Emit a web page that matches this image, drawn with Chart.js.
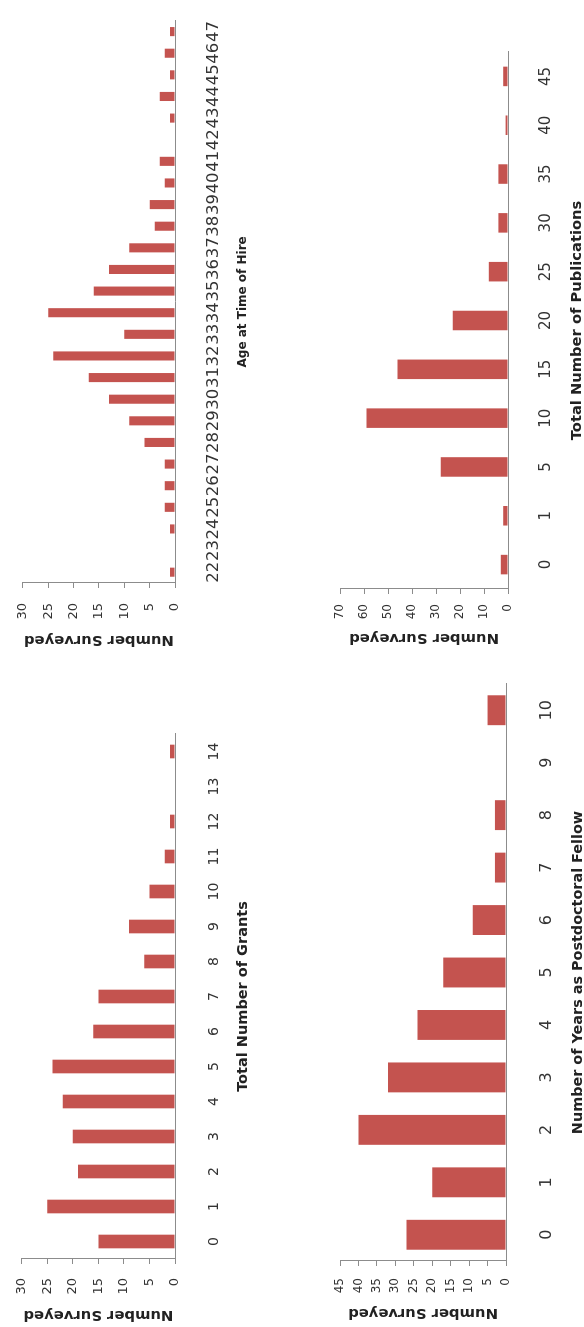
<!DOCTYPE html>
<html>
<head>
<meta charset="utf-8">
<title>Survey histograms</title>
<script src="https://cdn.jsdelivr.net/npm/chart.js@4.4.0/dist/chart.umd.min.js"></script>
<style>
  html, body { margin: 0; padding: 0; background: #fff; overflow: hidden; }
  body { width: 584px; height: 1327px; position: relative; }
  .panel { position: absolute; left: 0; top: 0; width: 650px; height: 300px; transform-origin: 0 0; }
</style>
</head>
<body>
<div class="panel" style="transform: translate(0px, 650px) rotate(-90deg)"><canvas id="c-age" width="650" height="300"></canvas></div>
<div class="panel" style="transform: translate(300px, 650px) rotate(-90deg)"><canvas id="c-pub" width="650" height="300"></canvas></div>
<div class="panel" style="transform: translate(0px, 1327px) rotate(-90deg)"><canvas id="c-grant" width="650" height="300"></canvas></div>
<div class="panel" style="transform: translate(300px, 1327px) rotate(-90deg)"><canvas id="c-postdoc" width="650" height="300"></canvas></div>
<script>
const ageLabels = ['22','23','24','25','26','27','28','29','30','31','32','33','34','35','36','37','38','39','40','41','42','43','44','45','46','47'];
const ageValues = [1,0,1,2,2,2,6,9,13,17,24,10,25,16,13,9,4,5,2,3,0,1,3,1,2,1];

const pubLabels = ['0','1','5','10','15','20','25','30','35','40','45'];
const pubValues = [3,2,28,59,46,23,8,4,4,1,2];

const grantLabels = ['0','1','2','3','4','5','6','7','8','9','10','11','12','13','14'];
const grantValues = [15,25,19,20,22,24,16,15,6,9,5,2,1,0,1];

const postdocLabels = ['0','1','2','3','4','5','6','7','8','9','10'];
const postdocValues = [27,20,40,32,24,17,9,3,3,0,5];

const barColor = '#c4534f';
const axisColor = '#8c8c8c';
const textColor = '#333333';
const fontFamily = "'DejaVu Sans', sans-serif";

// each chart is drawn upright and the panel is turned 90deg to the left
const makeChart = (id, labels, values, s) => {
  return new Chart(document.getElementById(id), {
    type: 'bar',
    data: {
      labels: labels,
      datasets: [{
        data: values,
        backgroundColor: barColor,
        barPercentage: s.bar,
        categoryPercentage: 1
      }]
    },
    options: {
      responsive: false,
      animation: false,
      layout: { padding: { left: 0, top: s.top, right: s.right, bottom: 0 } },
      plugins: { legend: { display: false }, tooltip: { enabled: false } },
      scales: {
        x: {
          grid: { display: false },
          border: { display: true, color: axisColor, width: 1 },
          ticks: {
            autoSkip: false, maxRotation: 0, minRotation: 0,
            padding: s.catPad, color: textColor,
            font: { family: fontFamily, size: s.catSize }
          },
          title: {
            display: true, text: s.xTitle, color: '#222',
            font: { family: fontFamily, size: s.xTitleSize, weight: 'bold' },
            padding: { top: 0, bottom: s.xTitlePad }
          },
          afterFit: (scale) => { scale.height = s.xHeight; }
        },
        y: {
          min: 0,
          max: s.max,
          ticks: {
            stepSize: s.step, padding: s.tickPad, color: textColor,
            font: { family: fontFamily, size: s.tickSize }
          },
          grid: { drawOnChartArea: false, drawTicks: true, tickLength: 5, color: axisColor },
          border: { display: true, color: axisColor, width: 1 },
          title: {
            display: true, text: 'Number Surveyed', color: '#222',
            font: { family: fontFamily, size: 14.8, weight: 'bold' },
            padding: { top: s.yTitlePad, bottom: 0 }
          },
          afterFit: (scale) => { scale.width = s.left; }
        }
      }
    }
  });
};

const ageChart = makeChart('c-age', ageLabels, ageValues, {
  bar: 0.42, top: 13, right: 5, left: 67, xHeight: 125,
  max: 30, step: 5, tickSize: 13, tickPad: 15, yTitlePad: 1,
  catSize: 16.5, catPad: 21, xTitle: 'Age at Time of Hire', xTitleSize: 12, xTitlePad: 50
});

const pubChart = makeChart('c-pub', pubLabels, pubValues, {
  bar: 0.4, top: 40, right: 52, left: 61, xHeight: 92,
  max: 70, step: 10, tickSize: 12, tickPad: 10, yTitlePad: 3,
  catSize: 15, catPad: 21, xTitle: 'Total Number of Publications', xTitleSize: 14.7, xTitlePad: 14
});

const grantChart = makeChart('c-grant', grantLabels, grantValues, {
  bar: 0.39, top: 13, right: 57, left: 68, xHeight: 125,
  max: 30, step: 5, tickSize: 13, tickPad: 14, yTitlePad: 3,
  catSize: 14, catPad: 23, xTitle: 'Total Number of Grants', xTitleSize: 14.5, xTitlePad: 48
});

const postdocChart = makeChart('c-postdoc', postdocLabels, postdocValues, {
  bar: 0.57, top: 40, right: 1, left: 66, xHeight: 94,
  max: 45, step: 5, tickSize: 12, tickPad: 12, yTitlePad: 5,
  catSize: 16, catPad: 23, xTitle: 'Number of Years as Postdoctoral Fellow', xTitleSize: 14.4, xTitlePad: 13
});
</script>
</body>
</html>
